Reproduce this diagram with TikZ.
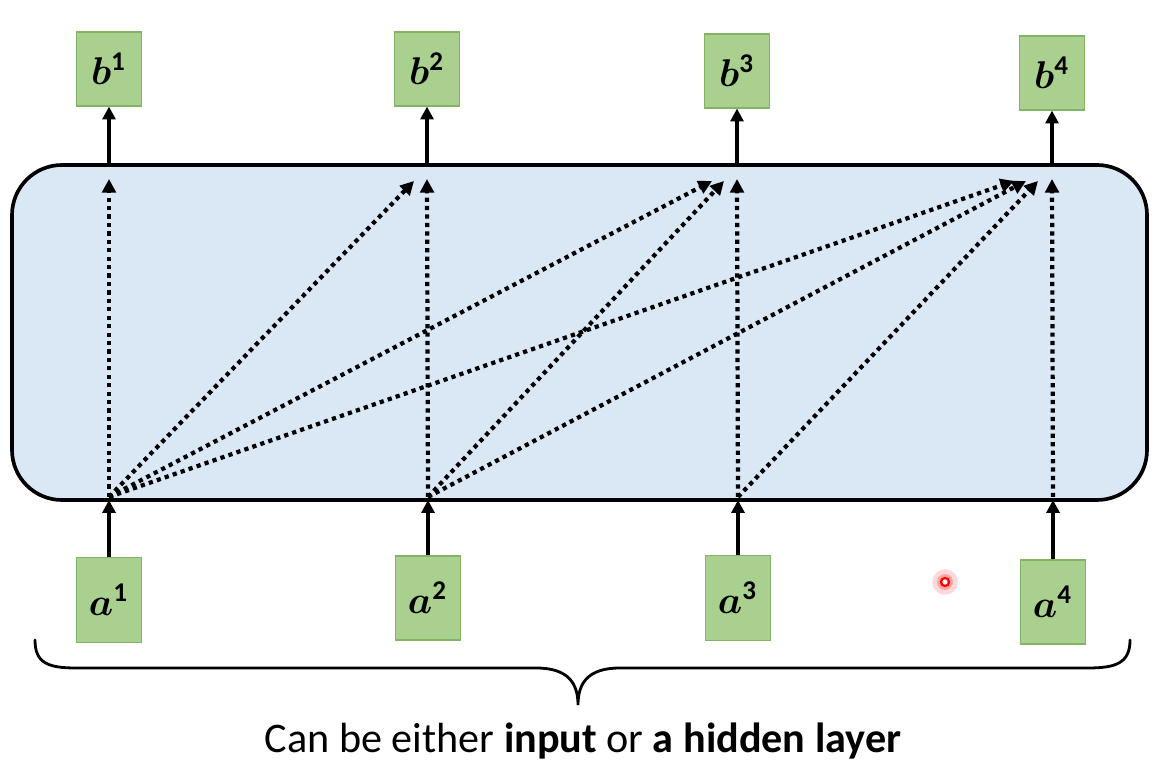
\documentclass[tikz,border=0pt]{standalone}
\usepackage{fontspec}
\setmainfont{Carlito}
\usepackage{bm}
\usetikzlibrary{arrows.meta}
\definecolor{layerfill}{RGB}{218,232,246}
\definecolor{boxfill}{RGB}{169,208,142}
\definecolor{boxdraw}{RGB}{130,180,100}
\newcommand{\vlab}[2]{\scalebox{2.75}{$\bm{#1}^{\mathbf{#2}}$}}
\begin{document}
\begin{tikzpicture}[
  vecbox/.style={draw=boxdraw, line width=0.8pt, fill=boxfill, minimum width=1.625cm, minimum height=1.95cm, inner sep=0pt},
  solidarrow/.style={line width=2.6pt, -{Triangle[length=3.2mm,width=3.2mm]}},
  dotarrow/.style={line width=3pt, dash pattern=on 3pt off 3pt, -{Triangle[length=3.4mm,width=3.4mm]}},
  bracestyle/.style={line width=2pt, line cap=round}
]
\useasboundingbox (0,0) rectangle (29.05,19.175);
% layer
\node[draw=black, line width=2.6pt, fill=layerfill, rounded corners=1.25cm, minimum width=28.375cm, minimum height=8.375cm, inner sep=0pt] (layer) at (14.4875,10.8625) {};
% output boxes
\node[vecbox, minimum height=1.85cm] (b1) at (2.725,17.45) {\vlab{b}{1}};
\node[vecbox, minimum height=1.85cm] (b2) at (10.675,17.45) {\vlab{b}{2}};
\node[vecbox, minimum height=1.85cm] (b3) at (18.425,17.4) {\vlab{b}{3}};
\node[vecbox, minimum height=1.85cm] (b4) at (26.3,17.35) {\vlab{b}{4}};
% input boxes
\node[vecbox, minimum height=2.125cm] (a1) at (2.725,4.175) {\vlab{a}{1}};
\node[vecbox, minimum height=2.1cm] (a2) at (10.7,4.225) {\vlab{a}{2}};
\node[vecbox, minimum height=2.125cm] (a3) at (18.45,4.225) {\vlab{a}{3}};
\node[vecbox, minimum height=2.1cm] (a4) at (26.325,4.125) {\vlab{a}{4}};
% coordinates on the layer
\coordinate (in1) at (2.725,6.675);
\coordinate (in2) at (10.7,6.675);
\coordinate (in3) at (18.45,6.675);
\coordinate (in4) at (26.325,6.675);
\coordinate (s1) at (2.725,6.75);
\coordinate (s2) at (10.7,6.75);
\coordinate (s3) at (18.45,6.75);
\coordinate (s4) at (26.325,6.75);
\coordinate (out1) at (2.725,15.05);
\coordinate (out2) at (10.675,15.05);
\coordinate (out3) at (18.425,15.05);
\coordinate (out4) at (26.3,15.05);
% arrow tip targets inside
\coordinate (t11) at (2.725,14.7);
\coordinate (t22) at (10.675,14.7);
\coordinate (t12) at (10.35,14.65);
\coordinate (t33) at (18.425,14.7);
\coordinate (t23) at (18.1,14.65);
\coordinate (t13) at (17.8,14.65);
\coordinate (t44) at (26.3,14.7);
\coordinate (t34) at (25.95,14.65);
\coordinate (t24) at (25.65,14.65);
\coordinate (t14) at (25.35,14.65);
% solid arrows
\draw[solidarrow] (a1.north) -- (in1);
\draw[solidarrow] (a2.north) -- (in2);
\draw[solidarrow] (a3.north) -- (in3);
\draw[solidarrow] (a4.north) -- (in4);
\draw[solidarrow] (out1) -- (b1.south);
\draw[solidarrow] (out2) -- (b2.south);
\draw[solidarrow] (out3) -- (b3.south);
\draw[solidarrow] (out4) -- (b4.south);
% dotted arrows
\draw[dotarrow] (s1) -- (t11);
\draw[dotarrow] (s1) -- (t12);
\draw[dotarrow] (s1) -- (t13);
\draw[dotarrow] (s1) -- (t14);
\draw[dotarrow] (s2) -- (t22);
\draw[dotarrow] (s2) -- (t23);
\draw[dotarrow] (s2) -- (t24);
\draw[dotarrow] (s3) -- (t33);
\draw[dotarrow] (s3) -- (t34);
\draw[dotarrow] (s4) -- (t44);
% pointer dot
\fill[red, opacity=0.15] (23.625,4.625) circle (0.32);
\fill[red, opacity=0.25] (23.625,4.625) circle (0.2);
\draw[red, line width=1.6pt, fill=white] (23.625,4.625) circle (0.1);
% brace
\draw[bracestyle] (0.875,3.175) .. controls (0.875,2.6) and (1.2,2.475) .. (1.9,2.475) -- (13.4,2.475) .. controls (14.2,2.475) and (14.45,2.1) .. (14.45,1.55) .. controls (14.45,2.1) and (14.7,2.475) .. (15.5,2.475) -- (27.2,2.475) .. controls (27.9,2.475) and (28.25,2.6) .. (28.25,3.175);
\node[font=\fontsize{30}{36}\selectfont, inner sep=0pt] (caption) at (14.575,0.65) {Can be either \textbf{input} or \textbf{a hidden layer}};
\end{tikzpicture}
\end{document}
